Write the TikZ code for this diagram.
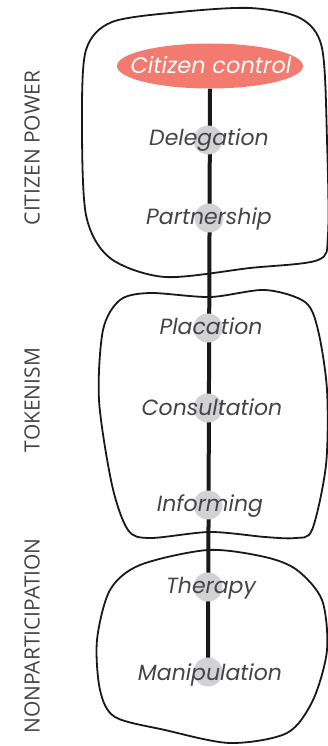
\documentclass[tikz,border=0pt]{standalone}
\usepackage{fontspec}
\setmainfont{Poppins}
\newfontfamily\groupfont{Open Sans}
\usetikzlibrary{shapes, backgrounds}
\definecolor{ctrlred}{HTML}{F37A6F}
\definecolor{dotgray}{HTML}{D2D2D4}
\definecolor{textgray}{HTML}{444444}
\tikzstyle{rung} = [circle, fill=dotgray, minimum size=29pt, inner sep=0pt]
\tikzstyle{rname} = [font=\itshape\fontsize{22}{22}\selectfont, text=textgray, inner sep=0pt, anchor=base]
\tikzstyle{ctrl} = [ellipse, fill=ctrlred, minimum width=186pt, minimum height=45pt, inner sep=0pt]
\tikzstyle{ctrltext} = [text=white, inner sep=0pt, font=\itshape\fontsize{22.5}{22.5}\selectfont]
\tikzstyle{group} = [rotate=90, font=\groupfont\fontsize{21}{21}\selectfont, text=textgray]
\tikzstyle{blob} = [draw, line width=1.8pt, black!90]
\tikzstyle{line} = [draw, line width=4pt, black!90]

\begin{document}
\begin{tikzpicture}[x=1pt, y=-1pt]
    \useasboundingbox (0,0) rectangle (328,746);

    % group outlines
    \draw[blob] plot[smooth cycle] coordinates {(82,120) (86,50) (112,22) (180,12) (250,8) (300,18) (322,48)
        (327,140) (328,235) (318,260) (250,268) (165,277) (110,258) (86,215)};
    \draw[blob] plot[smooth cycle] coordinates {(99,400) (103,330) (120,300) (150,293) (210,297) (265,290)
        (305,302) (318,330) (327,390) (326,465) (312,530) (295,538) (265,537) (210,532) (150,538) (128,530) (112,485)};
    \draw[blob] plot[smooth cycle] coordinates {(97,640) (110,590) (140,565) (208,550) (265,557) (297,570)
        (322,600) (327,650) (313,700) (287,733) (230,743) (165,730) (115,717) (100,690)};

    % rungs of the ladder
    \node[ctrl](control) at (210,66) {};
    \node[ctrltext] at ([xshift=1pt, yshift=1pt]control.center) {Citizen control};
    \node[rung](deleg) at (208,140) {};
    \node[rung](partner) at (209,218) {};
    \node[rung](placat) at (208,328) {};
    \node[rung](consult) at (208,408) {};
    \node[rung](inform) at (208,505) {};
    \node[rung](therapy) at (208,587) {};
    \node[rung](manip) at (208,672) {};

    \begin{pgfonlayer}{background}
        \path[line] (control.south) -- (manip.center);
    \end{pgfonlayer}

    \node[rname] at ([xshift=1pt, yshift=-6pt]deleg.center) {Delegation};
    \node[rname] at ([yshift=-6pt]partner.center) {Partnership};
    \node[rname] at ([xshift=3pt, yshift=-6pt]placat.center) {Placation};
    \node[rname] at ([xshift=4pt, yshift=-7pt]consult.center) {Consultation};
    \node[rname] at ([xshift=2pt, yshift=-6pt]inform.center) {Informing};
    \node[rname] at ([xshift=3pt, yshift=-6pt]therapy.center) {Therapy};
    \node[rname] at ([xshift=2pt, yshift=-8pt]manip.center) {Manipulation};

    % levels
    \node[group](power) at (32,148) {CITIZEN POWER};
    \node[group](token) at (32,400) {TOKENISM};
    \node[group](nonpart) at (32,636) {NONPARTICIPATION};
\end{tikzpicture}
\end{document}
